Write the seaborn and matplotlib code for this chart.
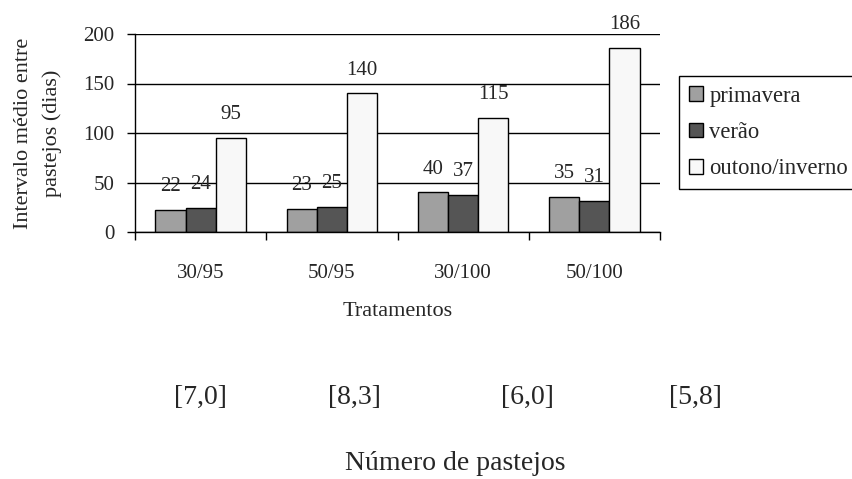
import pandas as pd
import matplotlib.pyplot as plt
import seaborn as sns
from matplotlib.patches import Patch

# Dados
tratamentos = ["30/95", "50/95", "30/100", "50/100"]
estacoes = ["primavera", "verão", "outono/inverno"]
primavera = [22, 23, 40, 35]
verao = [24, 25, 37, 31]
outono_inverno = [95, 140, 115, 186]
numero_pastejos = ["[7,0]", "[8,3]", "[6,0]", "[5,8]"]

cores = {"primavera": "#a0a0a0", "verão": "#555555", "outono/inverno": "#f8f8f8"}

df = pd.DataFrame({
    "Tratamento": tratamentos * 3,
    "Estacao": [e for e in estacoes for _ in tratamentos],
    "Dias": primavera + verao + outono_inverno,
})

sns.set_style("white")
plt.rcParams["font.family"] = ["Liberation Serif", "DejaVu Serif"]

fig = plt.figure(figsize=(8.52, 4.79), dpi=100)
ax = fig.add_axes([135 / 852, 1 - 232 / 479, 525 / 852, 198 / 479])

sns.barplot(data=df, x="Tratamento", y="Dias", hue="Estacao",
            order=tratamentos, hue_order=estacoes, palette=cores,
            saturation=1, width=0.69, edgecolor="black", linewidth=1,
            legend=False, ax=ax)

for cont in ax.containers:
    ax.bar_label(cont, padding=10, fontsize=15)

ax.set_ylim(0, 200)
ax.set_xlim(-0.5, 3.5)
ax.set_yticks([0, 50, 100, 150, 200])
ax.yaxis.grid(True, color="black", linewidth=1)
ax.set_axisbelow(True)

# rotulos no centro, marcas nas divisas
ax.set_xticks(range(len(tratamentos)))
ax.set_xticklabels(tratamentos)
ax.set_xticks([i - 0.5 for i in range(len(tratamentos) + 1)], minor=True)
ax.tick_params(axis="x", which="major", length=0, pad=23, labelsize=15)
ax.tick_params(axis="x", which="minor", length=6, width=1, color="black", direction="out")
ax.tick_params(axis="y", length=6, width=1, color="black", direction="out", pad=9, labelsize=15)
ax.tick_params(bottom=True, left=True, which="both")

for s in ["top", "right"]:
    ax.spines[s].set_visible(False)
for s in ["left", "bottom"]:
    ax.spines[s].set_color("black")
    ax.spines[s].set_linewidth(1)

ax.set_xlabel("Tratamentos", fontsize=16, labelpad=14)
ax.set_ylabel("")
fig.text(38 / 852, 1 - 133 / 479, "Intervalo médio entre\npastejos (dias)",
         rotation=90, ha="center", va="center", fontsize=16, linespacing=1.6)

handles = [Patch(facecolor=cores[e], edgecolor="black", linewidth=1) for e in estacoes]
leg = fig.legend(handles, estacoes, loc="upper left",
                 bbox_to_anchor=(679 / 852, 1 - 76 / 479), bbox_transform=fig.transFigure,
                 fontsize=16.3, frameon=True, fancybox=False, framealpha=1,
                 edgecolor="black", handlelength=0.62, handleheight=0.62,
                 handletextpad=0.3, borderpad=0.42, labelspacing=0.68, borderaxespad=0)
leg.get_frame().set_linewidth(1)

# numero de pastejos por tratamento
pos_x = [200, 354, 527, 695]
for x, txt in zip(pos_x, numero_pastejos):
    fig.text(x / 852, 1 - 404 / 479, txt, ha="center", va="baseline", fontsize=20)
fig.text(455 / 852, 1 - 470 / 479, "Número de pastejos", ha="center", va="baseline", fontsize=20)

fig.savefig("out.png", dpi=100)
